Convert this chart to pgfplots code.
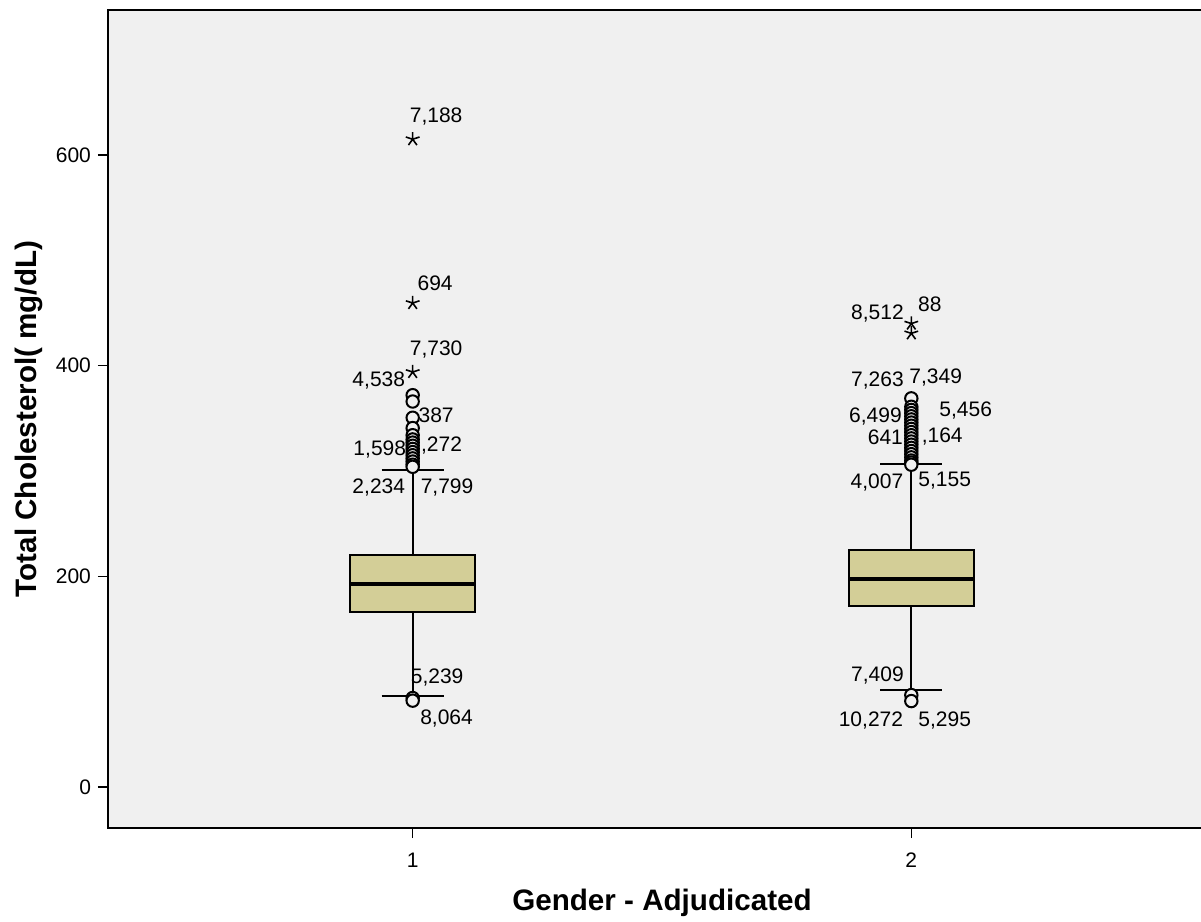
\documentclass[border=0pt]{standalone}
\usepackage{pgfplots}
\pgfplotsset{compat=1.18}
\usepackage{fontspec}
\setmainfont{Liberation Sans}
\definecolor{bgcol}{HTML}{F0F0F0}
\definecolor{boxcol}{HTML}{D3CE97}
\begin{document}
\begin{tikzpicture}
\useasboundingbox (-54pt,-47pt) rectangle (546.5pt,414pt);
\begin{axis}[
  at={(0,0)}, anchor=south west,
  scale only axis, width=554pt, height=409pt,
  xmin=0.389, xmax=2.611, ymin=-38.9, ymax=737.7,
  axis background/.style={fill=bgcol},
  axis line style={line width=1pt},
  xtick={1,2}, ytick={0,200,400,600},
  tick pos=left, tick align=outside,
  major tick length=5pt,
  every tick/.style={black, line width=0.8pt},
  /pgf/number format/assume math mode=true,
  ticklabel style={font=\fontsize{10.5}{12}\selectfont},
  xticklabel shift=4pt,
  xlabel={Gender - Adjudicated},
  ylabel={Total Cholesterol( mg/dL)},
  label style={font=\fontsize{14.8}{17}\selectfont\bfseries},
  xlabel style={at={(axis description cs:0.5,-0.0917)}, anchor=center},
  ylabel style={at={(axis description cs:-0.0713,0.5)}, anchor=center},
]
% whiskers
\addplot[black, line width=0.9pt] coordinates {(1,86.4) (1,166.4)};
\addplot[black, line width=0.9pt] coordinates {(1,220.3) (1,301)};
\addplot[black, line width=0.9pt] coordinates {(0.9375,86.4) (1.0625,86.4)};
\addplot[black, line width=0.9pt] coordinates {(0.9375,301) (1.0625,301)};
\addplot[black, line width=0.9pt] coordinates {(2,92.1) (2,171.8)};
\addplot[black, line width=0.9pt] coordinates {(2,225) (2,306.6)};
\addplot[black, line width=0.9pt] coordinates {(1.9375,92.1) (2.0625,92.1)};
\addplot[black, line width=0.9pt] coordinates {(1.9375,306.6) (2.0625,306.6)};
% boxes
\addplot[draw=black, fill=boxcol, line width=0.9pt] coordinates {(0.875,166.4) (1.125,166.4) (1.125,220.3) (0.875,220.3)} -- cycle;
\addplot[draw=black, fill=boxcol, line width=0.9pt] coordinates {(1.875,171.8) (2.125,171.8) (2.125,225) (1.875,225)} -- cycle;
% medians
\addplot[black, line width=2pt] coordinates {(0.875,192.4) (1.125,192.4)};
\addplot[black, line width=2pt] coordinates {(1.875,197.5) (2.125,197.5)};

\begin{scope}[every node/.style={font=\fontsize{10.5}{12}\selectfont, inner sep=0pt, anchor=center}]
\node at (axis cs:1.047,637) {7,188};
\node at (axis cs:1.045,478.5) {694};
\node at (axis cs:1.047,415.8) {7,730};
\node at (axis cs:0.932,385.5) {4,538};
\node at (axis cs:1.047,353.2) {387};
\node at (axis cs:0.934,320.9) {1,598};
\node at (axis cs:1.058,324.7) {,272};
\node at (axis cs:0.932,284.8) {2,234};
\node at (axis cs:1.069,284.8) {7,799};
\node at (axis cs:1.049,104.4) {5,239};
\node at (axis cs:1.068,64.6) {8,064};
\node at (axis cs:1.932,450) {8,512};
\node at (axis cs:2.037,458.5) {88};
\node at (axis cs:1.932,386.4) {7,263};
\node at (axis cs:2.049,389.2) {7,349};
\node at (axis cs:1.928,352.2) {6,499};
\node at (axis cs:2.109,357.9) {5,456};
\node at (axis cs:1.948,332.3) {641};
\node at (axis cs:2.062,332.3) {,164};
\node at (axis cs:1.931,289) {4,007};
\node at (axis cs:2.067,290.5) {5,155};
\node at (axis cs:1.932,105.4) {7,409};
\node at (axis cs:1.919,63.6) {10,272};
\node at (axis cs:2.067,63.6) {5,295};
\end{scope}

\addplot[only marks, mark=*, mark size=3.1pt, mark options={draw=black, fill=bgcol, line width=1pt}] coordinates {
(1,372) (1,366) (1,350.6) (1,340.8) (1,334) (1,330) (1,327) (1,324) (1,321) (1,318) (1,315) (1,312) (1,309) (1,306) (1,304)
(1,84.5) (1,82)
(2,369) (2,361) (2,358) (2,355) (2,352) (2,349) (2,346) (2,343) (2,340) (2,337) (2,334) (2,331) (2,328) (2,325) (2,322) (2,319) (2,316) (2,313) (2,310) (2,308) (2,306)
(2,87.3) (2,81.6)
};
\addplot[only marks, mark=star, mark size=3.6pt, mark options={draw=black, line width=0.8pt}] coordinates {
(1,615) (1,459.5) (1,394) (2,440) (2,430.7)
};
\end{axis}
\end{tikzpicture}
\end{document}
